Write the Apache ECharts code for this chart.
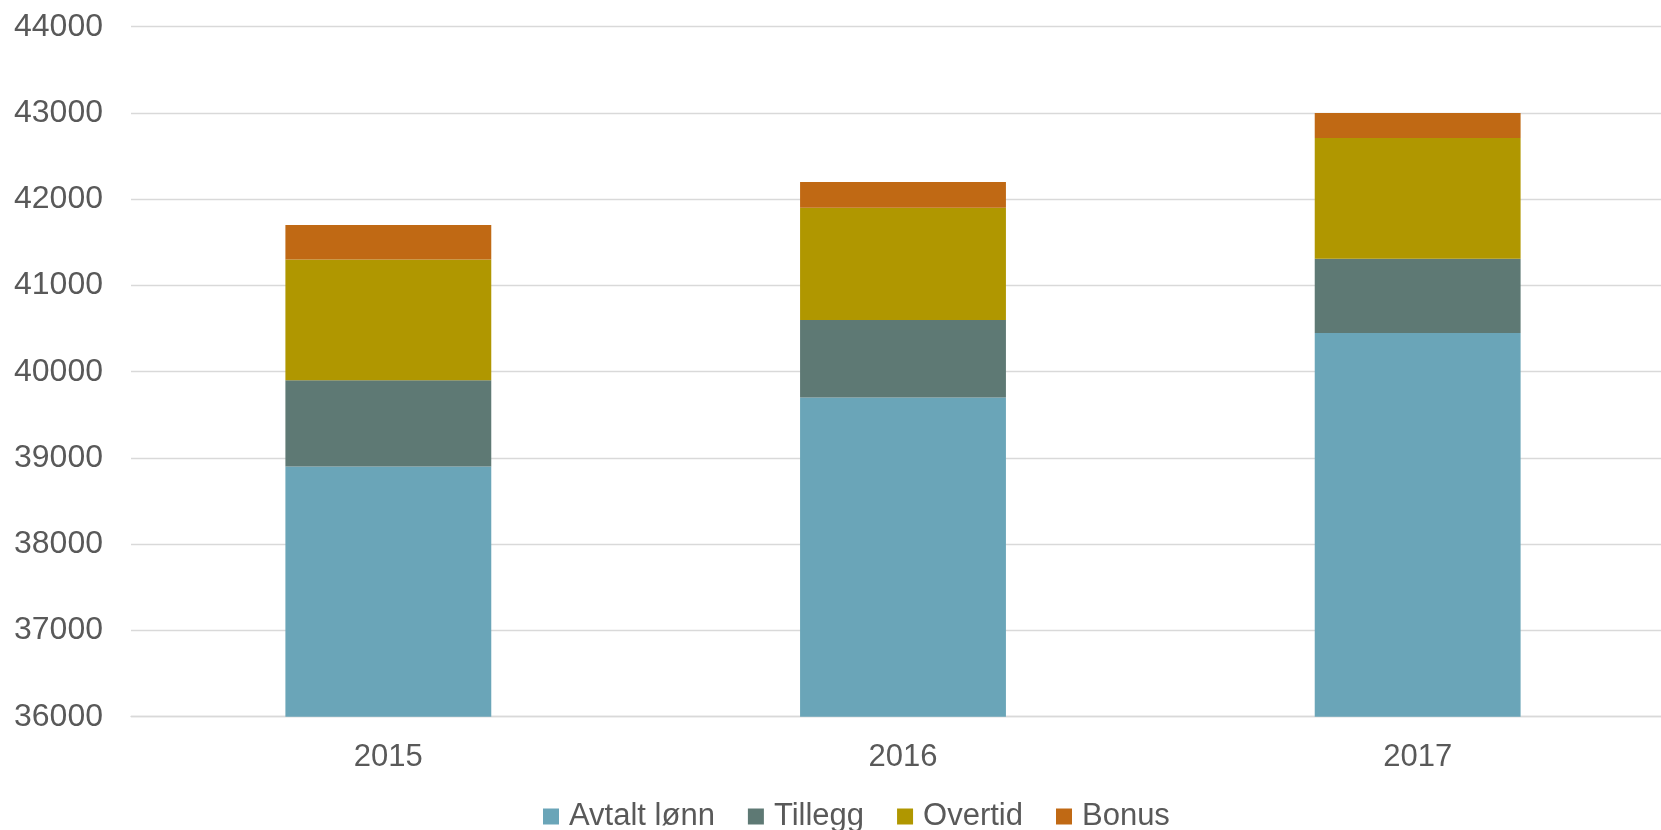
<!DOCTYPE html>
<html>
<head>
<meta charset="utf-8">
<script src="https://cdn.jsdelivr.net/npm/echarts@6/dist/echarts.min.js"></script>
<style>html,body{margin:0;padding:0;background:#fff}#c{width:1661px;height:830px}</style>
</head>
<body>
<div id="c"></div>
<script>
const categories = ['2015', '2016', '2017'];
const seriesNames = ['Avtalt lønn', 'Tillegg', 'Overtid', 'Bonus'];
const avtaltLonn = [38900, 39700, 40450];
const tillegg = [1000, 900, 860];
const overtid = [1400, 1300, 1400];
const bonus = [400, 300, 290];
const yTicks = [36000, 37000, 38000, 39000, 40000, 41000, 42000, 43000, 44000];

const colors = ['#6aa5b8', '#5e7974', '#b09700', '#c06914'];
const seriesData = [avtaltLonn, tillegg, overtid, bonus];
const textColor = '#595959';
const fontFam = '"Liberation Sans", Arial, sans-serif';

const chart = echarts.init(document.getElementById('c'), null, {renderer: 'canvas'});
chart.setOption({
  animation: false,
  color: colors,
  grid: {left: 131, width: 1544, top: 26.7, bottom: 113.3, containLabel: false, outerBoundsMode: 'none'},
  legend: {
    data: seriesNames,
    left: 543,
    top: 801,
    padding: 0,
    itemWidth: 16,
    itemHeight: 16,
    itemGap: 33,
    icon: 'rect',
    textStyle: {color: textColor, fontSize: 31, lineHeight: 31, fontFamily: fontFam, padding: [0, 0, 0, 5]}
  },
  xAxis: {
    type: 'category',
    data: categories,
    axisLine: {show: true, lineStyle: {color: '#d9d9d9', width: 1.3}},
    axisTick: {show: false},
    axisLabel: {color: textColor, fontSize: 31, fontFamily: fontFam, margin: 25}
  },
  yAxis: {
    type: 'value',
    min: yTicks[0],
    max: yTicks[yTicks.length - 1],
    interval: 1000,
    axisLine: {show: false},
    axisTick: {show: false},
    splitLine: {lineStyle: {color: '#d9d9d9', width: 1.3}},
    axisLabel: {color: textColor, fontSize: 32, fontFamily: fontFam, margin: 28, formatter: v => String(v)}
  },
  series: seriesNames.map((name, i) => ({
    name: name,
    type: 'bar',
    stack: 'total',
    barWidth: '40%',
    data: seriesData[i],
    itemStyle: {color: colors[i]}
  }))
});
</script>
</body>
</html>
